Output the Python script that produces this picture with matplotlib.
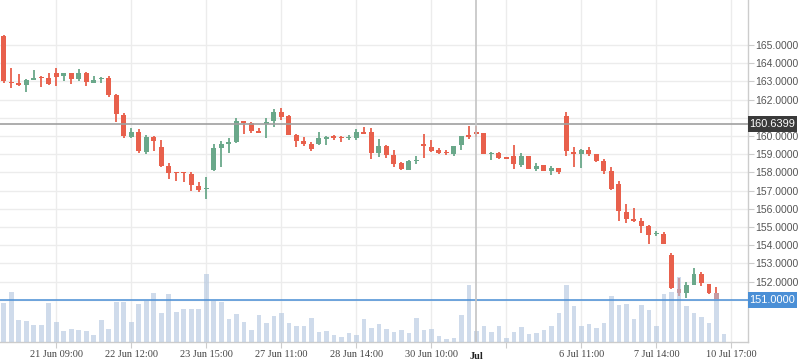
import numpy as np
import matplotlib
matplotlib.use('Agg')
import matplotlib.pyplot as plt
from matplotlib.lines import Line2D
from matplotlib.patches import Rectangle

# candles, one per bar
opens = [165.50, 162.95, 162.93, 162.82, 163.08, 163.18, 163.19, 163.46, 163.31, 163.46,
         163.13, 163.46, 162.93, 163.11, 163.19, 162.25, 161.15, 159.96, 160.22, 159.14,
         159.95, 159.40, 158.35, 157.98, 157.98, 157.90, 157.25, 157.08, 158.15, 159.36,
         159.58, 159.67, 160.82, 160.71, 160.27, 160.68, 160.84, 161.30, 161.10, 160.05,
         159.73, 159.58, 159.58, 159.85, 159.95, 159.91, 159.87, 159.89, 160.17, 160.22,
         159.07, 159.45, 158.96, 158.53, 158.13, 158.62, 159.56, 159.38, 159.21, 159.09,
         159.03, 159.49, 160.00, 160.24, 160.15, 159.00, 159.05, 158.80, 158.90, 158.42,
         158.90, 158.18, 158.40, 158.07, 158.24, 161.10, 159.14, 159.03, 159.23, 159.01,
         158.63, 158.08, 157.36, 155.82, 155.44, 155.33, 155.05, 154.61, 154.62, 153.46,
         151.59, 151.37, 151.83, 152.42, 151.85, 151.36]
highs = [165.55, 163.74, 163.42, 163.15, 163.63, 163.30, 163.46, 163.74, 163.46, 163.46,
         163.68, 163.52, 163.30, 163.26, 163.30, 162.31, 161.25, 160.42, 160.37, 160.04,
         160.00, 159.78, 158.52, 158.04, 158.04, 158.02, 157.46, 157.75, 159.56, 159.73,
         159.91, 160.99, 160.82, 160.77, 160.44, 160.99, 161.48, 161.54, 161.15, 160.11,
         159.95, 159.67, 160.22, 160.00, 160.07, 160.02, 160.07, 160.38, 160.48, 160.42,
         159.84, 159.51, 159.23, 158.59, 158.68, 158.90, 160.11, 159.78, 159.32, 159.25,
         159.45, 160.00, 160.57, 160.55, 160.18, 159.14, 159.12, 158.85, 159.51, 159.07,
         158.92, 158.52, 158.40, 158.35, 158.24, 161.32, 159.40, 159.29, 159.40, 159.01,
         158.74, 158.30, 157.53, 156.26, 156.04, 155.50, 155.11, 154.76, 154.73, 153.57,
         152.20, 151.96, 152.75, 152.53, 151.85, 151.69]
lows = [162.90, 162.65, 162.76, 162.43, 163.08, 162.71, 162.82, 162.76, 163.04, 162.87,
        163.04, 162.76, 162.93, 162.90, 162.13, 160.79, 159.91, 159.91, 159.07, 159.03,
        159.18, 158.28, 157.65, 157.53, 157.49, 156.99, 156.92, 156.55, 158.09, 158.31,
        159.05, 159.62, 160.13, 160.18, 160.15, 159.91, 160.51, 160.88, 160.05, 159.41,
        159.45, 159.19, 159.51, 159.52, 159.78, 159.69, 159.76, 159.76, 160.13, 158.74,
        158.85, 158.79, 158.31, 158.13, 158.13, 158.45, 158.81, 159.10, 159.00, 158.94,
        158.92, 159.25, 159.85, 159.96, 159.00, 158.70, 158.74, 158.74, 158.20, 158.31,
        158.18, 158.09, 158.07, 157.86, 157.93, 158.92, 158.31, 158.26, 158.92, 158.57,
        157.93, 157.03, 155.35, 155.24, 155.29, 154.69, 154.08, 154.52, 154.07, 151.57,
        151.21, 151.10, 151.83, 151.76, 151.33, 151.03]
closes = [163.00, 162.90, 162.82, 163.08, 163.19, 163.16, 162.87, 163.24, 163.46, 163.15,
          163.46, 162.98, 163.08, 163.14, 162.27, 161.19, 160.02, 160.22, 159.18, 159.93,
          159.74, 158.35, 157.98, 157.96, 157.96, 157.31, 157.03, 157.12, 159.34, 159.56,
          159.69, 160.82, 160.73, 160.29, 160.18, 160.72, 161.30, 161.06, 160.07, 159.74,
          159.54, 159.30, 159.89, 159.89, 159.91, 159.87, 159.91, 160.22, 160.13, 159.07,
          159.45, 158.96, 158.46, 158.20, 158.63, 158.66, 159.47, 159.16, 159.07, 159.05,
          159.45, 160.00, 159.96, 160.09, 159.00, 159.08, 158.79, 158.76, 158.48, 158.90,
          158.20, 158.35, 158.09, 158.24, 158.02, 159.19, 159.03, 159.23, 159.03, 158.63,
          158.09, 157.09, 155.90, 155.46, 155.35, 155.07, 154.58, 154.65, 154.07, 151.63,
          151.39, 151.80, 152.42, 151.91, 151.39, 151.03]
volumes = [39, 50, 22, 21, 17, 17, 39, 20, 11, 13, 12, 11, 7, 22, 13, 40, 40, 20, 38, 41,
           49, 29, 48, 30, 33, 33, 33, 68, 41, 40, 23, 28, 20, 12, 27, 19, 26, 29, 19, 16,
           16, 24, 10, 11, 7, 5, 9, 7, 23, 14, 18, 13, 10, 12, 9, 24, 12, 13, 6, 3,
           4, 27, 57, 11, 16, 10, 16, 4, 10, 15, 8, 9, 12, 16, 29, 57, 36, 16, 18, 14,
           19, 46, 37, 38, 23, 37, 32, 16, 48, 50, 65, 36, 29, 25, 19, 49, 8]

tick_pos = [7, 17, 27, 37, 47, 57, 67, 77, 87, 97]
tick_labels = ['21 Jun 09:00', '22 Jun 12:00', '23 Jun 15:00', '27 Jun 11:00', '28 Jun 14:00',
               '30 Jun 10:00', '', '6 Jul 11:00', '7 Jul 14:00', '10 Jul 17:00']
price_ticks = list(range(151, 166))
hidden_price_labels = [151, 161]   # covered by the marker boxes

cross_x = 63
cross_label = 'Jul'
cross_price = 160.6399
vol_line_price = 151.0

RED = '#e8604c'
GREEN = '#6aa88a'
GRID = '#ececec'
AXIS = '#cccccc'

o = np.array(opens); h = np.array(highs); l = np.array(lows); c = np.array(closes)
x = np.arange(len(o))
up = c >= o
colors = np.where(up, GREEN, RED)

fig = plt.figure(figsize=(7.98, 3.63), dpi=100)
ax = fig.add_axes([0.0, 21/363, 748/798, 342/363])

ax.vlines(x, l, h, colors=colors, lw=1.3, zorder=3)
body = np.maximum(np.abs(c - o), 0.07)
ax.bar(x, body, bottom=np.minimum(o, c), width=0.66, color=colors, zorder=3, linewidth=0)

ax.set_xlim(-0.5, 99.2)
ax.set_ylim(148.68, 167.47)

# volume overlay (twinx resets the price axis side, so set it afterwards)
ax2 = ax.twinx()
ax2.bar(np.arange(len(volumes)), volumes, width=0.62, color='#b0c4de', alpha=0.6,
        linewidth=0, zorder=2)
ax2.set_ylim(0, 342)
ax2.set_yticks([])
for s in ax2.spines.values():
    s.set_visible(False)

ax.set_yticks(price_ticks)
ax.set_yticklabels(['' if p in hidden_price_labels else f'{p:.4f}' for p in price_ticks])
ax.yaxis.tick_right()
ax.tick_params(axis='y', length=4, width=0.8, color=AXIS, pad=1, labelsize=7.5,
               labelcolor='#555555', labelfontfamily='Liberation Sans')
ax.set_xticks(tick_pos)
ax.set_xticklabels(tick_labels)
ax.tick_params(axis='x', length=4, width=0.8, color=AXIS, pad=2, labelsize=7.4,
               labelcolor='#444444', labelfontfamily='Liberation Serif')
ax.grid(True, color=GRID, lw=1, zorder=0)
for s in ['top', 'left']:
    ax.spines[s].set_visible(False)
for s in ['bottom', 'right']:
    ax.spines[s].set_color(AXIS)
    ax.spines[s].set_linewidth(1)

# crosshair and price markers
ytr = ax.get_yaxis_transform()
ax2.add_line(Line2D([0, 1], [cross_price, cross_price], transform=ytr, color='#a0a0a0', lw=1.2))
ax2.add_line(Line2D([0, 1], [vol_line_price, vol_line_price], transform=ytr, color='#4a8fd6', lw=1.1))
ax2.axvline(cross_x, color='#c4c4c4', lw=1.2)

box_w = 49 / 748     # label box width, axes fraction
box_h = 0.88         # label box height, price units
for val, fc in [(cross_price, '#3a3a3a'), (vol_line_price, '#4a8fd6')]:
    ax2.add_patch(Rectangle((1.0, val - box_h / 2), box_w, box_h, transform=ytr,
                            fc=fc, ec='none', clip_on=False, zorder=5))
    ax2.text(1.0 + box_w / 2, val, f'{val:.4f}', transform=ytr, ha='center', va='center',
             color='white', fontsize=7.9, family='Liberation Sans', zorder=6)
ax2.text(cross_x, -0.028, cross_label, transform=ax.get_xaxis_transform(), ha='center', va='top',
         fontsize=7.4, fontweight='bold', family='Liberation Serif', color='#222222')

fig.savefig('out.png', dpi=100)
